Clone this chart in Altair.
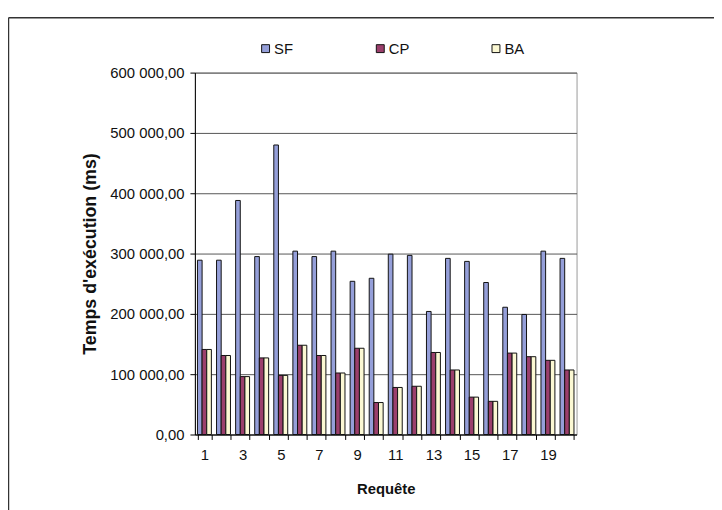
import altair as alt
import pandas as pd

queries = list(range(1, 21))
sf = [289000, 289000, 388000, 295000, 480000, 304000, 295000, 304000, 254000, 259000,
      299000, 297000, 204000, 292000, 287000, 252000, 211000, 199000, 304000, 292000]
cp = [141000, 131000, 96000, 127000, 98000, 148000, 131000, 102000, 143000, 53000,
      78000, 80000, 136000, 107000, 62000, 55000, 135000, 129000, 123000, 107000]
ba = [141000, 131000, 96000, 127000, 98000, 148000, 131000, 102000, 143000, 53000,
      78000, 80000, 136000, 107000, 62000, 55000, 135000, 129000, 123000, 107000]
series = ["SF", "CP", "BA"]
colors = ["#959fd9", "#9b3f6c", "#fbf8d3"]

rows = []
for name, vals in zip(series, [sf, cp, ba]):
    for q, v in zip(queries, vals):
        rows.append({"Requête": q, "Série": name, "Temps": v})
df = pd.DataFrame(rows)

FONT = "Liberation Sans"

bars = alt.Chart(df).mark_bar(stroke="#111111", strokeWidth=1).encode(
    x=alt.X("Requête:O",
            scale=alt.Scale(paddingInner=0.27, paddingOuter=0.135),
            axis=alt.Axis(title="Requête", labelAngle=0, tickBand="extent",
                          labelExpr="datum.value % 2 == 1 ? datum.label : ''",
                          tickSize=5, tickColor="#000000", domainColor="#000000",
                          labelPadding=8, titlePadding=20, labelFontSize=15,
                          titleFontSize=15, labelFont=FONT, titleFont=FONT,
                          labelColor="#111111", titleColor="#111111", grid=False)),
    xOffset=alt.XOffset("Série:N", sort=series),
    y=alt.Y("Temps:Q",
            scale=alt.Scale(domain=[0, 600000], nice=False),
            axis=alt.Axis(title="Temps d'exécution (ms)",
                          values=[0, 100000, 200000, 300000, 400000, 500000, 600000],
                          labelExpr="replace(replace(replace(format(datum.value, ',.2f'), '.', '#'), ',', ' '), '#', ',')",
                          tickSize=5, tickColor="#000000", domainColor="#000000",
                          gridColor="#555555", gridWidth=1, labelPadding=6,
                          titlePadding=10, labelFontSize=15, titleFontSize=18,
                          labelFont=FONT, titleFont=FONT,
                          labelColor="#111111", titleColor="#111111")),
    color=alt.Color("Série:N", sort=series,
                    scale=alt.Scale(domain=series, range=colors),
                    legend=alt.Legend(title=None, orient="none", direction="horizontal",
                                      legendX=64, legendY=-32, symbolType="square",
                                      symbolSize=64, symbolStrokeColor="#111111",
                                      symbolStrokeWidth=1, labelFontSize=15,
                                      labelFont=FONT, labelColor="#111111",
                                      columnPadding=80, labelOffset=1)),
)

frame_data = alt.Data(values=[{"a": 1}])
left_line = alt.Chart(frame_data).mark_rule(color="#333333", strokeWidth=1.5).encode(
    x=alt.value(-188.5), y=alt.value(-55.5), y2=alt.value(445))
top_line = alt.Chart(frame_data).mark_rule(color="#333333", strokeWidth=1.5).encode(
    x=alt.value(-188.5), x2=alt.value(530), y=alt.value(-55.5))

chart = alt.layer(bars, left_line, top_line).properties(
    width=386, height=366,
    autosize=alt.AutoSizeParams(type="none"),
    padding={"left": 189, "top": 62.5, "right": 139, "bottom": 73},
    background="white",
).configure_view(stroke="#999999", strokeWidth=1)

chart.save("out.html", embed_options={"renderer": "svg", "actions": False})
